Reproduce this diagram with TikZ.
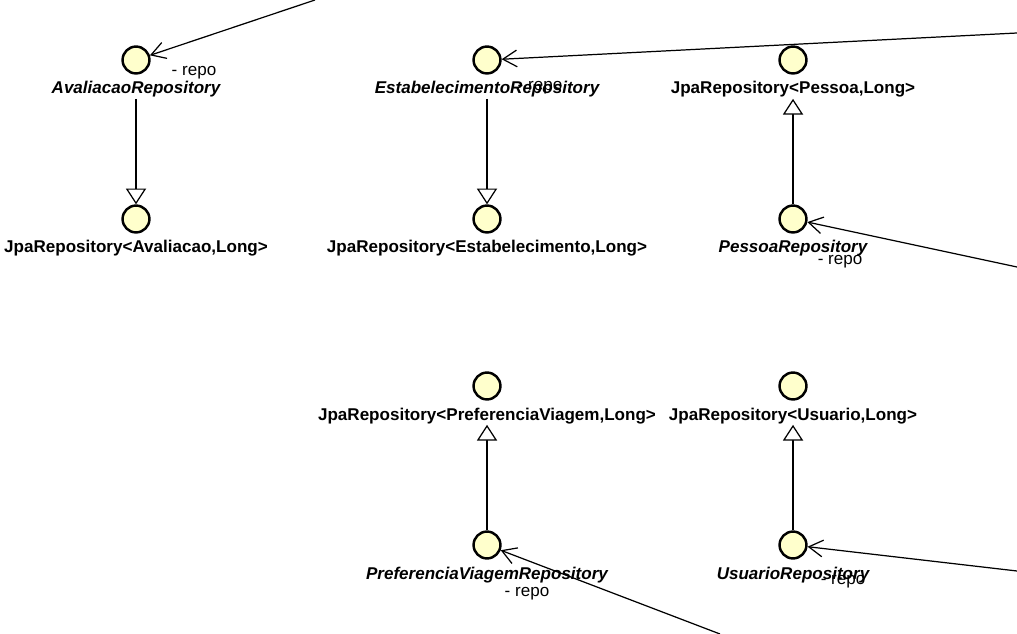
\documentclass[tikz,border=0pt]{standalone}
\usepackage{fontspec}
\setmainfont{Liberation Sans}
\usetikzlibrary{arrows.meta, positioning}
\definecolor{ifaceYellow}{RGB}{255, 255, 204}

\begin{document}
\begin{tikzpicture}[
    x=0.02cm, y=-0.02cm,
    iface/.style={circle, draw=black, line width=1.4pt, fill=ifaceYellow,
      minimum size=15.3pt, inner sep=0pt},
    iname/.style={font=\fontsize{9.7}{11}\selectfont\bfseries\itshape,
      inner sep=0.5pt, anchor=base},
    jname/.style={font=\fontsize{9.7}{11}\selectfont\bfseries,
      inner sep=0.5pt, anchor=base},
    role/.style={font=\fontsize{9.7}{11}\selectfont, inner sep=0.5pt},
    gen/.style={-{Triangle[open, length=9pt, width=11.5pt, fill=white]}, line width=0.7pt},
    assoc/.style={-{Straight Barb[length=8pt, width=9.5pt]}, line width=0.7pt},
  ]
    \path[use as bounding box, fill=white] (0,0) rectangle (1017,634);

    % interfaces
    \node[iface] (avalRepo) at (136,60) {};
    \node[iface] (jpaAval) at (136,219) {};
    \node[iface] (estabRepo) at (487,60) {};
    \node[iface] (jpaEstab) at (487,219) {};
    \node[iface] (jpaPessoa) at (793,60) {};
    \node[iface] (pessoaRepo) at (793,219) {};
    \node[iface] (jpaPref) at (487,386) {};
    \node[iface] (prefRepo) at (487,545) {};
    \node[iface] (jpaUsu) at (793,386) {};
    \node[iface] (usuRepo) at (793,545) {};

    % names
    \node[iname] (avalTxt) at (136,94) {AvaliacaoRepository};
    \node[jname] (jpaAvalTxt) at (136,253) {JpaRepository<Avaliacao,Long>};
    \node[iname] (estabTxt) at (487,94) {EstabelecimentoRepository};
    \node[jname] (jpaEstabTxt) at (487,253) {JpaRepository<Estabelecimento,Long>};
    \node[jname] (jpaPessoaTxt) at (793,94) {JpaRepository<Pessoa,Long>};
    \node[iname] (pessoaTxt) at (793,253) {PessoaRepository};
    \node[jname] (jpaPrefTxt) at (487,420) {JpaRepository<PreferenciaViagem,Long>};
    \node[iname] (prefTxt) at (487,579) {PreferenciaViagemRepository};
    \node[jname] (jpaUsuTxt) at (793,420) {JpaRepository<Usuario,Long>};
    \node[iname] (usuTxt) at (793,579) {UsuarioRepository};

    % extends
    \draw[gen] (avalTxt) -- (jpaAval);
    \draw[gen] (estabTxt) -- (jpaEstab);
    \draw[gen] (pessoaRepo) -- (jpaPessoaTxt);
    \draw[gen] (prefRepo) -- (jpaPrefTxt);
    \draw[gen] (usuRepo) -- (jpaUsuTxt);

    % repo fields
    \coordinate (avalSrc) at (315,0);
    \coordinate (estabSrc) at (1017,33);
    \coordinate (pessoaSrc) at (1017,267);
    \coordinate (prefSrc) at (720,634);
    \coordinate (usuSrc) at (1017,571);
    \draw[assoc] (avalSrc) -- (avalRepo);
    \draw[assoc] (estabSrc) -- (estabRepo);
    \draw[assoc] (pessoaSrc) -- (pessoaRepo);
    \draw[assoc] (prefSrc) -- (prefRepo);
    \draw[assoc] (usuSrc) -- (usuRepo);

    \node[role] (avalRole) at (194,73) {- repo};
    \node[role] (estabRole) at (540,88) {- repo};
    \node[role] (pessoaRole) at (840,262) {- repo};
    \node[role] (prefRole) at (527,594) {- repo};
    \node[role] (usuRole) at (843,582) {- repo};
  \end{tikzpicture}
\end{document}
